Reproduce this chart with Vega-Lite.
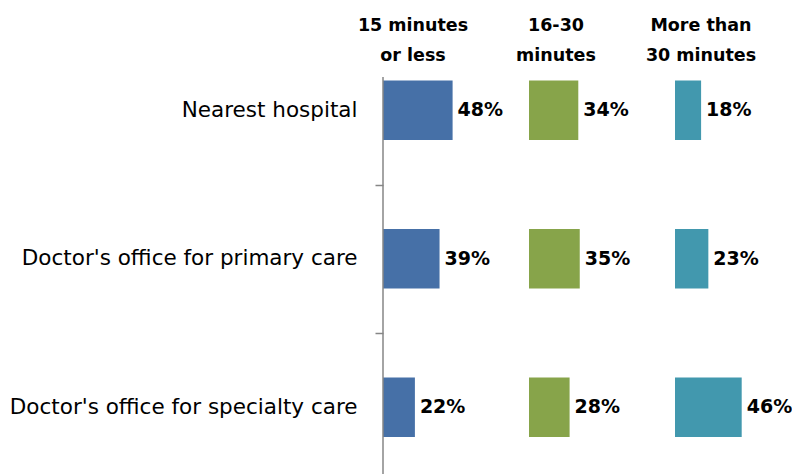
{
  "$schema": "https://vega.github.io/schema/vega-lite/v6.json",
  "background": "white",
  "padding": {"left": 9, "top": 16, "right": 0, "bottom": 0},
  "config": {
    "view": {"stroke": null},
    "font": "DejaVu Sans",
    "title": {
      "font": "DejaVu Sans",
      "fontSize": 17.5,
      "fontWeight": "bold",
      "color": "#000000",
      "anchor": "start",
      "align": "center",
      "baseline": "alphabetic",
      "lineHeight": 30,
      "offset": -28,
      "frame": "group"
    }
  },
  "data": {
    "values": [
      {"place": "Nearest hospital", "group": "15 minutes or less", "share": 0.48},
      {"place": "Doctor's office for primary care", "group": "15 minutes or less", "share": 0.39},
      {"place": "Doctor's office for specialty care", "group": "15 minutes or less", "share": 0.22},
      {"place": "Nearest hospital", "group": "16-30 minutes", "share": 0.34},
      {"place": "Doctor's office for primary care", "group": "16-30 minutes", "share": 0.35},
      {"place": "Doctor's office for specialty care", "group": "16-30 minutes", "share": 0.28},
      {"place": "Nearest hospital", "group": "More than 30 minutes", "share": 0.18},
      {"place": "Doctor's office for primary care", "group": "More than 30 minutes", "share": 0.23},
      {"place": "Doctor's office for specialty care", "group": "More than 30 minutes", "share": 0.46}
    ]
  },
  "spacing": 1,
  "bounds": "flush",
  "resolve": {"scale": {"y": "independent"}},
  "hconcat": [
    {
      "width": 145,
      "height": 445.5,
      "title": {"text": ["15 minutes", "or less"], "dx": 30, "align": "center", "anchor": "start", "offset": -28},
      "transform": [{"filter": "datum.group === '15 minutes or less'"}],
      "encoding": {
        "y": {
          "field": "place",
          "type": "nominal",
          "sort": ["Nearest hospital", "Doctor's office for primary care", "Doctor's office for specialty care"],
          "scale": {"paddingInner": 0, "paddingOuter": 0},
          "axis": {
            "title": null,
            "domain": false,
            "ticks": true,
            "tickSize": 8,
            "tickWidth": 1.5,
            "tickColor": "#868686",
            "tickOffset": -74.25,
            "labelOffset": 74.25,
            "tickOpacity": {"condition": {"test": "datum.value === 'Nearest hospital'", "value": 0}, "value": 1},
            "labelFont": "DejaVu Sans",
            "labelFontSize": 21.5,
            "labelColor": "#000000",
            "labelPadding": 18,
            "labelLimit": 500
          }
        }
      },
      "layer": [
        {
          "mark": {"type": "bar", "color": "#4670A7", "height": {"band": 0.4}},
          "encoding": {
            "x": {"field": "share", "type": "quantitative", "scale": {"domain": [0, 1]}, "axis": null}
          }
        },
        {
          "mark": {"type": "text", "align": "left", "baseline": "middle", "dx": 5, "font": "DejaVu Sans", "fontSize": 19, "fontWeight": "bold", "color": "#000000"},
          "encoding": {
            "x": {"field": "share", "type": "quantitative", "scale": {"domain": [0, 1]}, "axis": null},
            "text": {"field": "share", "type": "quantitative", "format": ".0%"}
          }
        },
        {
          "data": {"values": [{}]},
          "mark": {"type": "rule", "color": "#868686", "strokeWidth": 1.5},
          "encoding": {
            "x": {"datum": 0, "type": "quantitative"},
            "y": {"datum": "Nearest hospital", "type": "nominal", "bandPosition": 0.276},
            "y2": {"datum": "Doctor's office for specialty care", "bandPosition": 1}
          }
        }
      ]
    },
    {
      "width": 145,
      "height": 445.5,
      "title": {"text": ["16-30", "minutes"], "dx": 27, "align": "center", "anchor": "start", "offset": -28},
      "transform": [{"filter": "datum.group === '16-30 minutes'"}],
      "encoding": {
        "y": {
          "field": "place",
          "type": "nominal",
          "sort": ["Nearest hospital", "Doctor's office for primary care", "Doctor's office for specialty care"],
          "scale": {"paddingInner": 0, "paddingOuter": 0},
          "axis": null
        }
      },
      "layer": [
        {
          "mark": {"type": "bar", "color": "#87A44A", "height": {"band": 0.4}},
          "encoding": {
            "x": {"field": "share", "type": "quantitative", "scale": {"domain": [0, 1]}, "axis": null}
          }
        },
        {
          "mark": {"type": "text", "align": "left", "baseline": "middle", "dx": 5, "font": "DejaVu Sans", "fontSize": 19, "fontWeight": "bold", "color": "#000000"},
          "encoding": {
            "x": {"field": "share", "type": "quantitative", "scale": {"domain": [0, 1]}, "axis": null},
            "text": {"field": "share", "type": "quantitative", "format": ".0%"}
          }
        }
      ]
    },
    {
      "width": 116,
      "height": 445.5,
      "title": {"text": ["More than", "30 minutes"], "dx": 26, "align": "center", "anchor": "start", "offset": -28},
      "transform": [{"filter": "datum.group === 'More than 30 minutes'"}],
      "encoding": {
        "y": {
          "field": "place",
          "type": "nominal",
          "sort": ["Nearest hospital", "Doctor's office for primary care", "Doctor's office for specialty care"],
          "scale": {"paddingInner": 0, "paddingOuter": 0},
          "axis": null
        }
      },
      "layer": [
        {
          "mark": {"type": "bar", "color": "#4298AE", "height": {"band": 0.4}},
          "encoding": {
            "x": {"field": "share", "type": "quantitative", "scale": {"domain": [0, 0.8]}, "axis": null}
          }
        },
        {
          "mark": {"type": "text", "align": "left", "baseline": "middle", "dx": 5, "font": "DejaVu Sans", "fontSize": 19, "fontWeight": "bold", "color": "#000000"},
          "encoding": {
            "x": {"field": "share", "type": "quantitative", "scale": {"domain": [0, 0.8]}, "axis": null},
            "text": {"field": "share", "type": "quantitative", "format": ".0%"}
          }
        }
      ]
    }
  ]
}
